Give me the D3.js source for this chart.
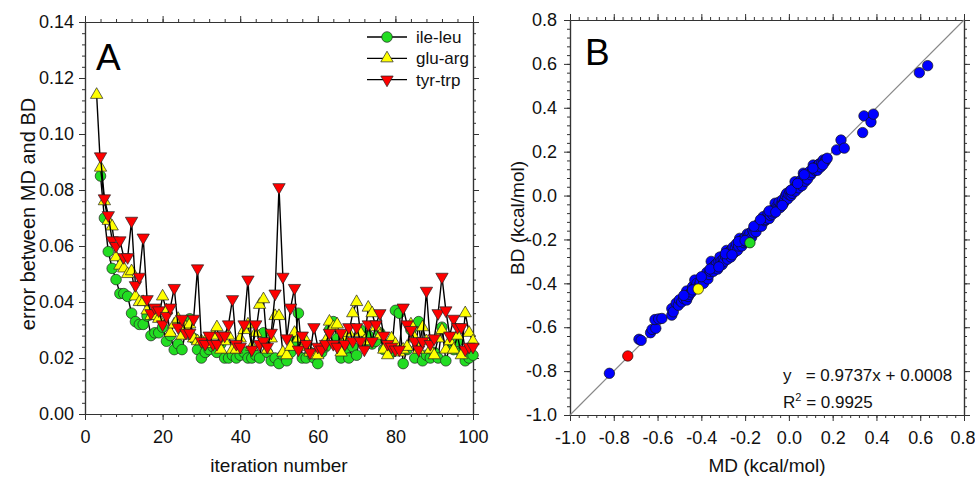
<!DOCTYPE html>
<html>
<head>
<meta charset="utf-8">
<script src="https://cdn.jsdelivr.net/npm/d3@7"></script>
<style>
  html, body { margin: 0; padding: 0; background: #fff; }
  svg { display: block; font-family: "Liberation Sans", Arial, sans-serif; }
</style>
</head>
<body>
<script>
// ---------- Panel A data ----------
const iterations = d3.range(3, 101); // iteration numbers 3..100
const ileLeu = [null,
  0.085,0.070,0.058,0.052,0.048,0.043,0.043,0.042,0.036,0.033,
  0.032,0.032,0.035,0.028,0.029,0.029,0.031,0.026,0.028,0.023,
  0.025,0.023,0.030,0.034,0.027,0.023,0.020,0.022,0.023,0.024,
  0.022,0.025,0.020,0.020,0.021,0.020,0.021,0.022,0.020,0.020,
  0.021,0.020,0.029,0.022,0.019,0.020,0.018,0.021,0.019,0.022,
  0.026,0.036,0.020,0.020,0.022,0.020,0.018,0.022,0.024,0.030,
  0.033,0.027,0.020,0.023,0.020,0.024,0.021,0.030,0.026,0.028,
  0.025,0.026,0.029,0.023,0.024,0.022,0.037,0.036,0.018,0.023,
  0.030,0.020,0.033,0.019,0.021,0.020,0.022,0.020,0.031,0.019,
  0.024,0.023,0.026,0.022,0.019,0.020,0.021];
const gluArg = [
  0.114,0.088,0.076,0.069,0.067,0.056,0.053,0.052,0.050,0.051,
  0.042,0.040,0.040,0.037,0.035,0.035,0.034,0.042,0.037,0.029,
  0.032,0.034,0.028,0.031,0.032,0.027,0.026,0.026,0.026,0.025,
  0.028,0.031,0.023,0.026,0.028,0.023,0.023,0.027,0.030,0.032,
  0.024,0.029,0.039,0.041,0.023,0.027,0.035,0.035,0.022,0.021,
  0.024,0.029,0.027,0.024,0.026,0.022,0.021,0.021,0.024,0.026,
  0.033,0.031,0.032,0.022,0.027,0.029,0.036,0.040,0.029,0.026,
  0.038,0.036,0.031,0.028,0.023,0.021,0.027,0.025,0.022,0.023,
  0.024,0.032,0.027,0.023,0.031,0.026,0.023,0.021,0.027,0.030,
  0.023,0.026,0.023,0.028,0.021,0.036,0.029,0.026];
const tyrTrp = [null,
  0.092,0.077,0.071,0.062,0.060,0.062,0.056,0.056,0.069,0.046,
  0.049,0.063,0.041,0.036,0.038,0.037,0.032,0.035,0.038,0.045,
  0.031,0.034,0.029,0.029,0.034,0.052,0.026,0.025,0.028,0.025,
  0.025,0.028,0.028,0.032,0.041,0.025,0.024,0.032,0.048,0.023,
  0.032,0.025,0.026,0.024,0.029,0.043,0.081,0.049,0.027,0.038,
  0.045,0.023,0.028,0.025,0.022,0.031,0.024,0.023,0.025,0.029,
  0.025,0.024,0.029,0.025,0.031,0.026,0.031,0.026,0.023,0.032,
  0.026,0.032,0.036,0.028,0.025,0.024,0.023,0.023,0.038,0.032,
  0.030,0.026,0.023,0.026,0.044,0.025,0.027,0.036,0.049,0.037,
  0.028,0.034,0.031,0.031,0.023,0.024,0.024];
const seriesNames = ["ile-leu", "glu-arg", "tyr-trp"];
const xTicksA = [0, 20, 40, 60, 80, 100];
const yTicksA = [0.00, 0.02, 0.04, 0.06, 0.08, 0.10, 0.12, 0.14];

// ---------- Panel B data ----------
const mdBlue = [
  -0.82,-0.685,-0.675,-0.632,-0.625,-0.608,-0.612,-0.595,-0.58,-0.535,
  -0.535,-0.528,-0.515,-0.505,-0.50,-0.49,-0.48,-0.467,-0.467,-0.46,
  -0.455,-0.445,-0.44,-0.43,-0.43,-0.42,-0.41,-0.405,-0.395,-0.39,
  -0.38,-0.375,-0.37,-0.365,-0.36,-0.355,-0.35,-0.345,-0.34,-0.335,
  -0.33,-0.325,-0.32,-0.315,-0.31,-0.305,-0.30,-0.295,-0.29,-0.285,
  -0.28,-0.275,-0.27,-0.265,-0.26,-0.255,-0.25,-0.245,-0.24,-0.235,
  -0.23,-0.225,-0.22,-0.215,-0.21,-0.205,-0.20,-0.195,-0.19,-0.185,
  -0.178,-0.17,-0.165,-0.16,-0.155,-0.15,-0.145,-0.14,-0.132,-0.125,
  -0.117,-0.11,-0.105,-0.10,-0.095,-0.09,-0.085,-0.08,-0.075,-0.07,
  -0.063,-0.06,-0.055,-0.05,-0.045,-0.04,-0.035,-0.03,-0.025,-0.02,
  -0.015,-0.01,-0.005,0.0,0.005,0.01,0.015,0.02,0.028,0.03,
  0.035,0.04,0.045,0.05,0.055,0.06,0.066,0.07,0.075,0.08,
  0.085,0.09,0.095,0.10,0.105,0.111,0.115,0.12,0.125,0.13,
  0.135,0.14,0.145,0.15,0.157,0.165,0.17,0.218,0.238,0.253,
  0.337,0.343,0.375,0.386,0.596,0.634,
  -0.48,-0.44,-0.40,-0.36,-0.32,-0.29,-0.26,-0.23,-0.20,-0.16,
  -0.13,-0.09,-0.06,-0.03,0.01,0.04,0.07,0.11,0.155,0.175];
const bdBlue = [
  -0.81,-0.655,-0.66,-0.625,-0.61,-0.605,-0.565,-0.562,-0.56,-0.545,
  -0.515,-0.53,-0.49,-0.50,-0.475,-0.485,-0.47,-0.476,-0.435,-0.46,
  -0.45,-0.44,-0.415,-0.385,-0.42,-0.40,-0.41,-0.395,-0.375,-0.40,
  -0.37,-0.35,-0.38,-0.36,-0.345,-0.30,-0.33,-0.345,-0.32,-0.33,
  -0.31,-0.335,-0.30,-0.28,-0.30,-0.315,-0.29,-0.30,-0.275,-0.25,
  -0.29,-0.265,-0.255,-0.28,-0.245,-0.235,-0.26,-0.24,-0.22,-0.25,
  -0.23,-0.195,-0.215,-0.23,-0.20,-0.215,-0.19,-0.21,-0.175,-0.185,
  -0.172,-0.19,-0.16,-0.17,-0.145,-0.165,-0.14,-0.13,-0.126,-0.14,
  -0.096,-0.115,-0.11,-0.10,-0.08,-0.105,-0.09,-0.07,-0.085,-0.075,
  -0.035,-0.06,-0.05,-0.055,-0.03,-0.055,-0.04,-0.02,-0.035,-0.025,
  0.0,0.01,-0.015,0.005,0.02,0.0,0.01,0.03,0.063,0.02,
  0.045,0.05,0.035,0.06,0.07,0.045,0.102,0.08,0.065,0.09,
  0.075,0.10,0.11,0.095,0.105,0.139,0.12,0.115,0.13,0.115,
  0.14,0.145,0.13,0.15,0.162,0.155,0.165,0.208,0.253,0.216,
  0.287,0.363,0.335,0.371,0.560,0.592,
  -0.455,-0.43,-0.37,-0.335,-0.325,-0.265,-0.27,-0.21,-0.205,-0.14,
  -0.11,-0.07,-0.075,-0.045,0.025,0.055,0.095,0.125,0.14,0.17];
const mdSpecial = [-0.736, -0.414, -0.178];
const bdSpecial = [-0.731, -0.426, -0.215];
const specialColors = ["#ff0000", "#ffff00", "#22dd22"];
const ticksB = [-1.0, -0.8, -0.6, -0.4, -0.2, 0.0, 0.2, 0.4, 0.6, 0.8];
const eqText = "y   = 0.9737x + 0.0008";
const r2Value = "= 0.9925";

// ---------- Drawing ----------
const svg = d3.select("body").append("svg").attr("width", 975).attr("height", 477);
const axisColor = "#333";
const tickFont = 18;
const fmt1 = d => d.toFixed(1);
const fmt2 = d => d.toFixed(2);

function frame(x, y, xMajor, xMinor, yMajor, yMinor, fmtX, fmtY, padY) {
  const g = svg.append("g");
  const [x0, x1] = x.range();
  const [y0, y1] = y.range();
  g.append("g").attr("transform", `translate(0,${y0})`)
    .call(d3.axisBottom(x).tickValues(xMinor).tickSize(3).tickFormat("").tickSizeOuter(0));
  g.append("g").attr("class", "xmaj").attr("transform", `translate(0,${y0})`)
    .call(d3.axisBottom(x).tickValues(xMajor).tickSize(6).tickPadding(10).tickFormat(fmtX).tickSizeOuter(0));
  g.append("g").attr("transform", `translate(0,${y1})`)
    .call(d3.axisTop(x).tickValues(xMinor).tickSize(3).tickFormat("").tickSizeOuter(0));
  g.append("g").attr("transform", `translate(0,${y1})`)
    .call(d3.axisTop(x).tickValues(xMajor).tickSize(6).tickFormat("").tickSizeOuter(0));
  g.append("g").attr("transform", `translate(${x0},0)`)
    .call(d3.axisLeft(y).tickValues(yMinor).tickSize(3).tickFormat("").tickSizeOuter(0));
  g.append("g").attr("transform", `translate(${x0},0)`)
    .call(d3.axisLeft(y).tickValues(yMajor).tickSize(6).tickPadding(padY).tickFormat(fmtY).tickSizeOuter(0));
  g.append("g").attr("transform", `translate(${x1},0)`)
    .call(d3.axisRight(y).tickValues(yMinor).tickSize(3).tickFormat("").tickSizeOuter(0));
  g.append("g").attr("transform", `translate(${x1},0)`)
    .call(d3.axisRight(y).tickValues(yMajor).tickSize(6).tickFormat("").tickSizeOuter(0));
  g.selectAll(".domain").attr("stroke", axisColor).attr("stroke-width", 1.2);
  g.selectAll(".tick line").attr("stroke", axisColor);
  g.selectAll(".tick text").attr("font-size", tickFont).attr("fill", "#111")
    .attr("font-family", "Liberation Sans, Arial, sans-serif");
  return g;
}

// ----- Panel A -----
const xA = d3.scaleLinear().domain([0, 100]).range([85, 473]);
const yA = d3.scaleLinear().domain([0, 0.14]).range([414, 22]);
const minorXA = d3.range(0, 101, 4);
const minorYA = d3.range(0, 0.1401, 0.004);
frame(xA, yA, xTicksA, minorXA, yTicksA, minorYA, d3.format("d"), fmt2, 5);

const triSize = 66;
const markers = [
  {name: seriesNames[0], data: ileLeu, fill: "#22dd22", sym: "circle"},
  {name: seriesNames[1], data: gluArg, fill: "#ffff00", sym: "up"},
  {name: seriesNames[2], data: tyrTrp, fill: "#ff0000", sym: "down"}
];
function drawMarker(sel, sym, fill) {
  if (sym === "circle") {
    sel.append("circle").attr("r", 5.3).attr("fill", fill).attr("stroke", "#222").attr("stroke-width", 0.7);
  } else {
    sel.append("path").attr("d", d3.symbol(d3.symbolTriangle, triSize)())
      .attr("transform", sym === "down" ? "rotate(180)" : null)
      .attr("fill", fill).attr("stroke", "#222").attr("stroke-width", 0.7);
  }
}
const lineA = d3.line().defined(d => d[1] != null).x(d => xA(d[0])).y(d => yA(d[1]));
markers.forEach(s => {
  const pts = iterations.map((it, i) => [it, s.data[i]]);
  svg.append("path").datum(pts).attr("d", lineA).attr("fill", "none")
    .attr("stroke", "#000").attr("stroke-width", 1.4);
  const gp = svg.append("g");
  pts.filter(d => d[1] != null).forEach(d => {
    const m = gp.append("g").attr("transform", `translate(${xA(d[0])},${yA(d[1])})`);
    drawMarker(m, s.sym, s.fill);
  });
});

// legend
const legend = svg.append("g");
markers.forEach((s, i) => {
  const yy = 37 + i * 21.3;
  legend.append("line").attr("x1", 367).attr("x2", 407).attr("y1", yy).attr("y2", yy)
    .attr("stroke", "#000").attr("stroke-width", 1.3);
  const m = legend.append("g").attr("transform", `translate(387,${yy})`);
  drawMarker(m, s.sym, s.fill);
  legend.append("text").attr("x", 416).attr("y", yy + 6).attr("font-size", 17).attr("fill", "#111")
    .text(s.name);
});

svg.append("text").attr("x", 96).attr("y", 70).attr("font-size", 37).attr("fill", "#000").text("A");
svg.append("text").attr("x", 279).attr("y", 472).attr("text-anchor", "middle")
  .attr("font-size", 19).attr("fill", "#111").text("iteration number");
svg.append("text").attr("transform", "translate(35,214) rotate(-90)").attr("text-anchor", "middle")
  .attr("font-size", 20).attr("fill", "#111").text("error between MD and BD");

// ----- Panel B -----
const xB = d3.scaleLinear().domain([-1, 0.8]).range([570, 964]);
const yB = d3.scaleLinear().domain([-1, 0.8]).range([415, 20]);
const minorB = d3.range(-1, 0.8001, 0.04);
const fb = frame(xB, yB, ticksB, minorB, ticksB, minorB, fmt1, fmt1, 7);
fb.selectAll(".xmaj .tick text").filter(d => d === 0.8).attr("dx", -1.5);

svg.append("line").attr("x1", xB(-1)).attr("y1", yB(-1)).attr("x2", xB(0.8)).attr("y2", yB(0.8))
  .attr("stroke", "#888").attr("stroke-width", 1.1);

const gB = svg.append("g");
mdBlue.forEach((m, i) => {
  gB.append("circle").attr("cx", xB(m)).attr("cy", yB(bdBlue[i])).attr("r", 5.2)
    .attr("fill", "#0000ff").attr("stroke", "#111").attr("stroke-width", 0.7);
});
mdSpecial.forEach((m, i) => {
  gB.append("circle").attr("cx", xB(m)).attr("cy", yB(bdSpecial[i])).attr("r", 5.2)
    .attr("fill", specialColors[i]).attr("stroke", "#111").attr("stroke-width", 0.7);
});

svg.append("text").attr("x", 585).attr("y", 65).attr("font-size", 37).attr("fill", "#000").text("B");
svg.append("text").attr("x", 767).attr("y", 472).attr("text-anchor", "middle")
  .attr("font-size", 19).attr("fill", "#111").text("MD (kcal/mol)");
svg.append("text").attr("transform", "translate(524,218) rotate(-90)").attr("text-anchor", "middle")
  .attr("font-size", 19).attr("fill", "#111").text("BD (kcal/mol)");

svg.append("text").attr("x", 783).attr("y", 381).attr("font-size", 17).attr("fill", "#111")
  .attr("xml:space", "preserve").style("white-space", "pre").text(eqText);
const r2 = svg.append("text").attr("x", 783).attr("y", 408).attr("font-size", 17).attr("fill", "#111")
  .style("white-space", "pre");
r2.append("tspan").text("R");
r2.append("tspan").attr("dy", -7).attr("font-size", 11).text("2");
r2.append("tspan").attr("dy", 7).text(" " + r2Value);
</script>
</body>
</html>
